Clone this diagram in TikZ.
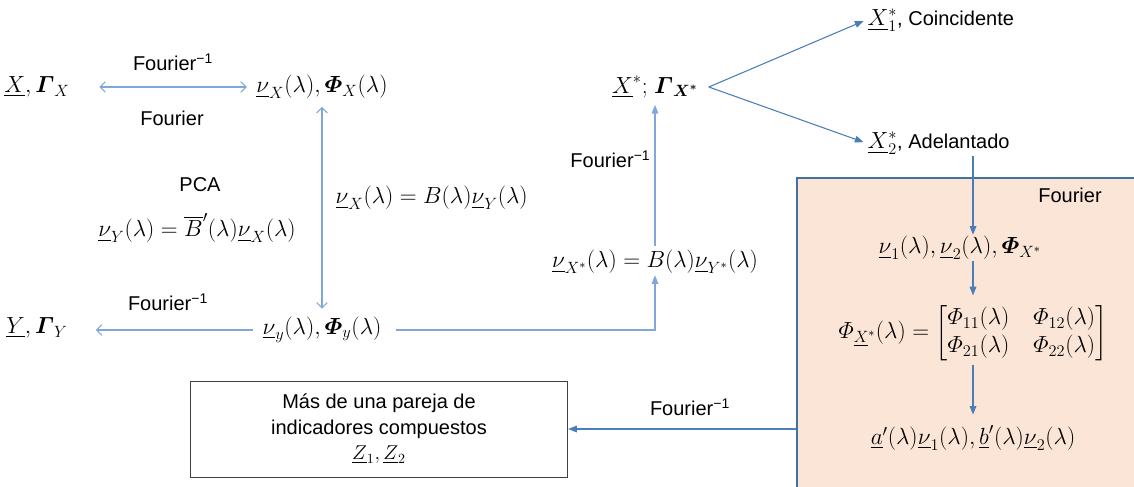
\RequirePackage{fix-cm}
\documentclass[tikz,border=0pt]{standalone}
\usepackage{amsmath}
\usepackage[no-math]{fontspec}
\newfontfamily\arial{Liberation Sans}
\usetikzlibrary{arrows.meta}
\definecolor{arrlight}{HTML}{7FA7D9}
\definecolor{arrdark}{HTML}{4A7EBB}
\definecolor{peach}{HTML}{FBE5D6}
\definecolor{panelborder}{HTML}{41719C}
\tikzset{
  mth/.style={font=\fontsize{17.5}{21}\selectfont, inner sep=1pt},
  lbl/.style={font=\arial\fontsize{15}{18}\selectfont, inner sep=1pt},
  openarr/.style={draw=arrlight, line width=0.8pt, -{Straight Barb[length=4pt,width=8pt]}},
  fillarr/.style={draw=arrdark, line width=0.8pt, -{Triangle[length=6.5pt,width=5pt]}},
  panelbox/.style={draw=panelborder, fill=peach, line width=1.6pt, minimum width=280pt, minimum height=260pt, anchor=north west},
  resultbox/.style={draw=black!75, line width=0.7pt, minimum width=283pt, minimum height=72pt, align=center, font=\arial\fontsize{15}{19}\selectfont}
}
\begin{document}
\begin{tikzpicture}[x=0.75pt,y=-0.75pt]
\useasboundingbox (0,0) rectangle (1134,486);
% panel
\node[panelbox] (panel) at (796,177) {};
% nodes
\node[mth] (X) at (37,87) {$\underline{X},\boldsymbol{\varGamma}_X$};
\node[mth] (vX) at (322,87) {$\underline{\nu}_X(\lambda),\boldsymbol{\varPhi}_X(\lambda)$};
\node[mth] (Y) at (37,328) {$\underline{Y},\boldsymbol{\varGamma}_Y$};
\node[mth] (vy) at (322,330) {$\underline{\nu}_y(\lambda),\boldsymbol{\varPhi}_y(\lambda)$};
\node[mth] (Xs) at (655,87) {$\underline{X}^{*}{;}\;\boldsymbol{\varGamma}_{\boldsymbol{X^{*}}}$};
\node[mth, anchor=west] (X1) at (866,20) {$\underline{X}_1^{*}$\arial\fontsize{15}{18}\selectfont, Coincidente};
\node[mth, anchor=west] (X2) at (866,143) {$\underline{X}_2^{*}$\arial\fontsize{15}{18}\selectfont, Adelantado};
\node[mth] (vXs) at (655,262) {$\underline{\nu}_{X^{*}}(\lambda)=B(\lambda)\underline{\nu}_{Y^{*}}(\lambda)$};
\node[mth] (nu12) at (960,248) {$\underline{\nu}_1(\lambda),\underline{\nu}_2(\lambda),\boldsymbol{\varPhi}_{X^{*}}$};
\node[mth] (mat) at (973,333) {$\varPhi_{\underline{X}^{*}}(\lambda)=\setlength\arraycolsep{9pt}\begin{bmatrix}\varPhi_{11}(\lambda) & \varPhi_{12}(\lambda)\\ \varPhi_{21}(\lambda) & \varPhi_{22}(\lambda)\end{bmatrix}$};
\node[mth] (ab) at (973,438) {$\underline{a}'(\lambda)\underline{\nu}_1(\lambda),\underline{b}'(\lambda)\underline{\nu}_2(\lambda)$};
\node[resultbox] (Z) at (379,429) {Más de una pareja de\\indicadores compuestos\\$\underline{Z}_1,\underline{Z}_2$};
% labels
\node[lbl] (l1) at (173,62) {Fourier\textsuperscript{−1}};
\node[lbl] (l2) at (172,118) {Fourier};
\node[lbl] (l3) at (200,185) {PCA};
\node[mth] (e1) at (197,228) {$\underline{\nu}_Y(\lambda)=\overline{B}'(\lambda)\underline{\nu}_X(\lambda)$};
\node[mth, anchor=west] (e2) at (334,198) {$\underline{\nu}_X(\lambda)=B(\lambda)\underline{\nu}_Y(\lambda)$};
\node[lbl] (l4) at (168,302) {Fourier\textsuperscript{−1}};
\node[lbl, anchor=east] (l5) at (652,159) {Fourier\textsuperscript{−1}};
\node[lbl] (l6) at (1070,195) {Fourier};
\node[lbl] (l7) at (690,407) {Fourier\textsuperscript{−1}};
% connectors
\draw[openarr, {Straight Barb[length=4pt,width=8pt]}-{Straight Barb[length=4pt,width=8pt]}, shorten <=21pt, shorten >=6pt] (X.east) -- (X.east -| vX.west);
\draw[openarr, {Straight Barb[length=4pt,width=8pt]}-{Straight Barb[length=4pt,width=8pt]}, shorten <=5pt, shorten >=5pt] (vX.south) -- (vy.north);
\draw[openarr, shorten <=6pt, shorten >=20pt] (vy.west) -- (vy.west -| Y.east);
\draw[fillarr, draw=arrlight, shorten <=10pt] (vy.east) -| (vXs.south);
\draw[fillarr, draw=arrlight, shorten <=2pt, shorten >=4pt] (vXs.north) -- (Xs.south);
\coordinate (fork) at ([xshift=7pt]Xs.east);
\draw[fillarr, shorten >=2pt] (fork) -- (X1.west);
\draw[fillarr, shorten >=2pt] (fork) -- (X2.west);
\draw[fillarr] (X2.south -| mat.north) -- (nu12.north -| mat.north);
\draw[fillarr, shorten >=6pt] (nu12.south -| mat.north) -- (mat.north);
\draw[fillarr, shorten <=2pt, shorten >=7pt] (mat.south) -- (ab.north);
\draw[fillarr] (panel.west |- Z.east) -- (Z.east);
\end{tikzpicture}
\end{document}
